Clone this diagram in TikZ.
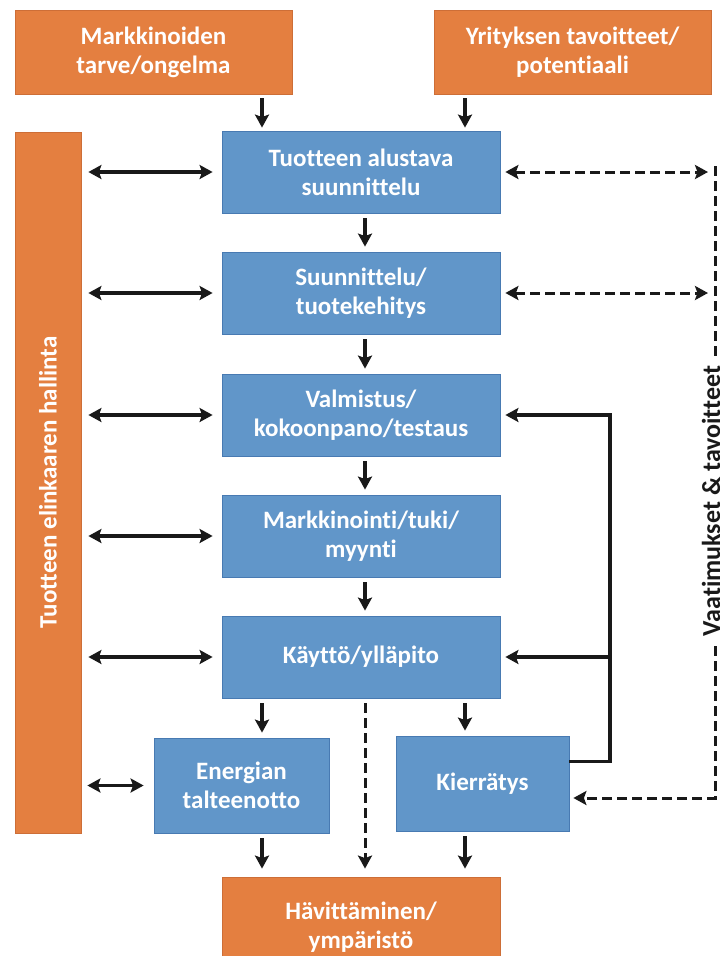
\documentclass[tikz,border=0pt]{standalone}
\usepackage{fontspec}
\setmainfont{Carlito}[Ligatures={NoCommon}]
\usetikzlibrary{arrows.meta,calc}
\definecolor{boxorange}{RGB}{228,127,64}
\definecolor{orangeedge}{RGB}{205,110,55}
\definecolor{boxblue}{RGB}{97,150,201}
\definecolor{blueedge}{RGB}{72,122,178}
\definecolor{ink}{RGB}{25,25,25}

\begin{document}
\begin{tikzpicture}[x=1pt,y=-1pt,
  box/.style={draw, line width=0.8pt, inner sep=0pt, align=center, text=white,
    font=\fontsize{25}{29}\selectfont\bfseries},
  obox/.style={box, fill=boxorange, draw=orangeedge},
  bbox/.style={box, fill=boxblue, draw=blueedge, minimum width=278pt, minimum height=82pt},
  tip/.tip={Stealth[length=13pt,width=14pt,inset=2.5pt]},
  arr/.style={line width=3.2pt, draw=ink, -tip},
  darr/.style={line width=3.2pt, draw=ink, tip-tip},
  dline/.style={line width=3pt, draw=ink, dash pattern=on 10pt off 5pt},
]
\clip (0,0) rectangle (720,956);
\fill[white] (0,0) rectangle (720,956);

% column positions for the side arrows and the right-hand rails
\coordinate (cL) at (262,0);
\coordinate (cR) at (465,0);
\coordinate (cD) at (365,0);
\coordinate (fb) at (610,0);
\coordinate (vr) at (715,0);

% inputs
\node[obox, minimum width=277pt, minimum height=84pt] (M) at (153.5,52) {Markkinoiden\\tarve/ongelma};
\node[obox, minimum width=277pt, minimum height=84pt] (Y) at (572.5,52) {Yrityksen tavoitteet/\\potentiaali};

% main chain
\node[bbox] (B1) at (361,172) {Tuotteen alustava\\suunnittelu};
\node[bbox] (B2) at (361,293) {Suunnittelu/\\tuotekehitys};
\node[bbox] (B3) at (361,415) {Valmistus/\\kokoonpano/testaus};
\node[bbox] (B4) at (361,536) {Markkinointi/tuki/\\myynti};
\node[bbox] (B5) at (361,657) {Käyttö/ylläpito};

% end-of-life branches
\node[bbox, minimum width=175pt, minimum height=95pt] (E) at (241.5,785.5) {Energian\\talteenotto};
\node[bbox, minimum width=173pt, minimum height=95pt] (K) at (482.5,783.5) {Kierrätys};
\node[obox, minimum width=278pt, minimum height=100pt] (H) at (361,927) {Hävittäminen/\\ympäristö};

% lifecycle management bar
\node[obox, minimum width=66pt, minimum height=701pt] (L) at (48,482.5) {};
\node[rotate=90, text=white, font=\fontsize{25}{29}\selectfont\bfseries] (Ltxt) at (L.center) {Tuotteen elinkaaren hallinta};

% inputs into the first step
\draw[arr, shorten <=4pt, shorten >=3pt] (M.south -| cL) -- (B1.north -| cL);
\draw[arr, shorten <=4pt, shorten >=3pt] (Y.south -| cR) -- (B1.north -| cR);

% chain arrows
\foreach \a/\b in {B1/B2, B2/B3, B3/B4, B4/B5}
  \draw[arr, shorten <=5pt, shorten >=5pt] (\a.south -| cD) -- (\b.north -| cD);

\draw[arr, shorten <=5pt, shorten >=5pt] (B5.south -| cL) -- (E.north -| cL);
\draw[arr, shorten <=5pt, shorten >=5pt] (B5.south -| cR) -- (K.north -| cR);
\draw[arr, shorten <=5pt, shorten >=8pt] (E.south -| cL) -- (H.north -| cL);
\draw[arr, shorten <=5pt, shorten >=8pt] (K.south -| cR) -- (H.north -| cR);
\draw[dline, -tip, shorten <=5pt, shorten >=8pt] (B5.south -| cD) -- (H.north -| cD);

% links with the lifecycle bar
\foreach \b in {B1,B2,B3,B4,B5}
  \draw[darr, shorten <=7pt, shorten >=9pt] (L.east |- \b) -- (\b.west);
\draw[darr, shorten <=6pt, shorten >=10pt] (L.east |- E) -- (E.west);

% recycling feedback
\coordinate (kout) at ($(K.north east)+(0,26)$);
\draw[arr, shorten >=5pt] (kout) -| (fb |- B3) -- (B3.east);
\draw[arr, shorten >=5pt] (fb |- B5) -- (B5.east);

% requirements and goals rail
\coordinate (vtop) at (715,166);
\coordinate (vbot) at (715,798);
\draw[dline, tip-tip, shorten <=5pt, shorten >=7pt] (B1.east) -- (B1.east -| vr);
\draw[dline, tip-tip, shorten <=5pt, shorten >=7pt] (B2.east) -- (B2.east -| vr);
\draw[dline, -tip, shorten >=4pt] (vtop) -- (vbot) -- (K.east |- vbot);
\node[rotate=90, fill=white, inner xsep=5pt, inner ysep=0pt, text=ink,
  font=\fontsize{26}{30}\selectfont\bfseries] (req) at (711,501) {Vaatimukset \& tavoitteet};
\end{tikzpicture}
\end{document}
